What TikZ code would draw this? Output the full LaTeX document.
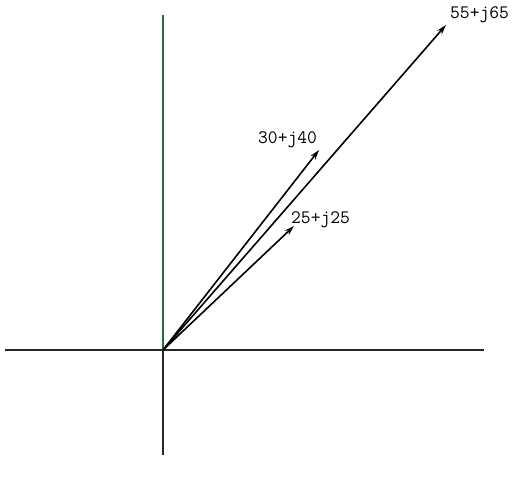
\documentclass[tikz,border=0pt]{standalone}
\usetikzlibrary{arrows.meta}
\definecolor{axgreen}{RGB}{40,110,55}
\begin{document}
\begin{tikzpicture}[x=1pt,y=-1pt,
  axis/.style={line width=1.2pt,black!85},
  phasor/.style={line width=1.6pt,-{Stealth[length=10pt,width=6pt]}},
  lbl/.style={font=\ttfamily\fontsize{19}{19}\selectfont,inner sep=0pt}]
\useasboundingbox (0,0) rectangle (515,486);
\coordinate (O) at (163,350);
\coordinate (L) at (5,350);
\coordinate (R) at (484,350);
\coordinate (T) at (163,15);
\coordinate (B) at (163,455);
\draw[axis] (L) -- (R);
\draw[axis,axgreen] (O) -- (T);
\draw[axis] (O) -- (B);
\coordinate (p1) at (446,25);
\coordinate (p2) at (319,150);
\coordinate (p3) at (294,226);
\draw[phasor] (O) -- (p1);
\draw[phasor] (O) -- (p2);
\draw[phasor] (O) -- (p3);
\node[lbl,anchor=west] (t1) at (450,15) {55+j65};
\node[lbl,anchor=west] (t2) at (258,140) {30+j40};
\node[lbl,anchor=west] (t3) at (291,220) {25+j25};
\end{tikzpicture}
\end{document}
